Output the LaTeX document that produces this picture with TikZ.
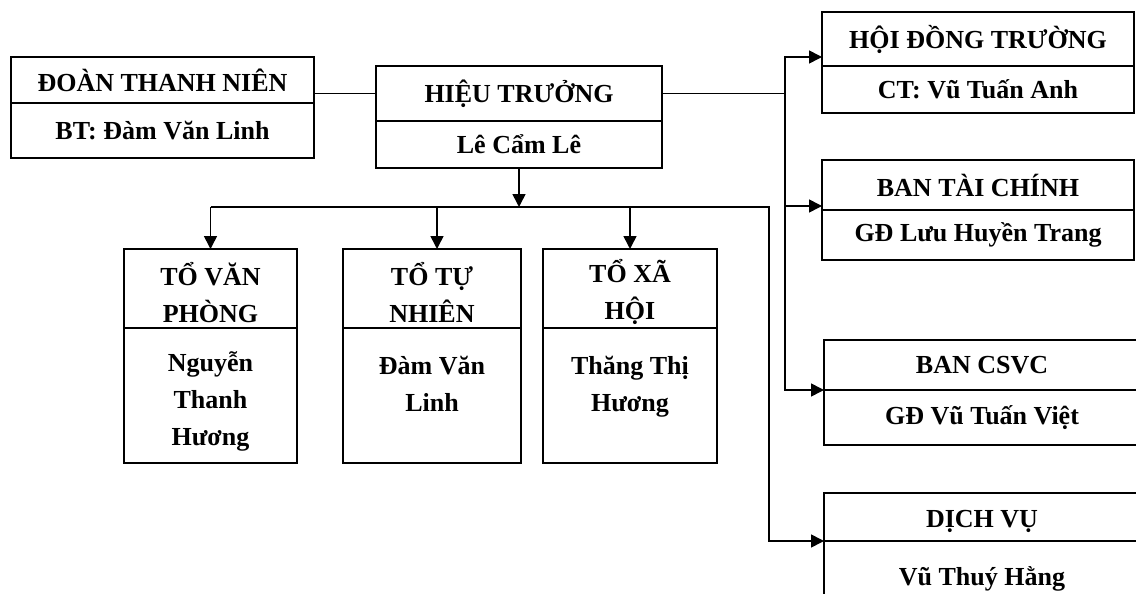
\documentclass[tikz,border=0pt]{standalone}
\usepackage{fontspec}
\setmainfont{Liberation Serif}
\usetikzlibrary{arrows.meta, positioning}

\newcommand{\topstrut}{\rule{0pt}{31pt}}

\begin{document}
\begin{tikzpicture}[
    x=1pt, y=-1pt,
    box/.style={rectangle, draw, line width=1.6pt, anchor=north west, inner sep=2pt, outer sep=0pt, align=center, font=\fontsize{26}{37}\selectfont\bfseries},
    wire/.style={line width=1.6pt},
    arrow/.style={-{Triangle[length=13pt, width=13pt]}, line width=1.6pt},
]
\useasboundingbox (0,0) rectangle (1136,594);

% left and centre boxes
\node[box, minimum width=303pt, minimum height=46pt] (doanHead) at (11,57) {ĐOÀN THANH NIÊN};
\node[box, minimum width=303pt, minimum height=55pt] (doanBody) at (doanHead.south west) {BT: Đàm Văn Linh};

\node[box, minimum width=286pt, minimum height=55pt] (htHead) at (376,66) {HIỆU TRƯỞNG};
\node[box, minimum width=286pt, minimum height=47pt] (htBody) at (htHead.south west) {Lê Cẩm Lê};

% right column
\node[box, minimum width=312pt, minimum height=54pt] (hdtHead) at (822,12) {HỘI ĐỒNG TRƯỜNG};
\node[box, minimum width=312pt, minimum height=47pt] (hdtBody) at (hdtHead.south west) {CT: Vũ Tuấn Anh};

\node[box, minimum width=312pt, minimum height=50pt] (btcHead) at (822,160) {BAN TÀI CHÍNH};
\node[box, minimum width=312pt, minimum height=50pt] (btcBody) at (btcHead.south west) {GĐ Lưu Huyền Trang};

\node[box, minimum width=316pt, minimum height=50pt] (csvcHead) at (824,340) {BAN CSVC};
\node[box, minimum width=316pt, minimum height=55pt] (csvcBody) at (csvcHead.south west) {GĐ Vũ Tuấn Việt};

\node[box, minimum width=316pt, minimum height=48pt] (dvHead) at (824,493) {\rule{0pt}{27pt}DỊCH VỤ};
\node[box, minimum width=316pt, minimum height=75pt] (dvBody) at (dvHead.south west) {Vũ Thuý Hằng};

% to boxes
\node[box, minimum width=173pt, minimum height=79pt] (vpHead) at (124,249) {\topstrut TỔ VĂN\\PHÒNG};
\node[box, minimum width=173pt, minimum height=135pt] (vpBody) at (vpHead.south west) {\topstrut Nguyễn\\Thanh\\Hương};

\node[box, minimum width=178pt, minimum height=79pt] (tnHead) at (343,249) {\topstrut TỔ TỰ\\NHIÊN};
\node[box, minimum width=178pt, minimum height=135pt] (tnBody) at (tnHead.south west) {\topstrut Đàm Văn\\Linh\\\mbox{}};

\node[box, minimum width=174pt, minimum height=79pt] (xhHead) at (543,249) {\topstrut TỔ XÃ\\HỘI};
\node[box, minimum width=174pt, minimum height=135pt] (xhBody) at (xhHead.south west) {\topstrut Thăng Thị\\Hương\\\mbox{}};

% connectors
\draw[wire] (htHead.west -| doanHead.east) -- (htHead.west);

\draw[wire] (htHead.east) -- ++(123,0) coordinate (trunk);
\draw[arrow] (trunk) |- ([yshift=-18pt]hdtHead.west);
\draw[arrow] (trunk) |- ([yshift=-21pt]btcHead.west);
\draw[arrow] (trunk) |- (csvcHead.south west);

\draw[arrow] (htBody.south) -- ++(0,39) coordinate (bus);
\coordinate (busEnd) at (769,207);
\draw[arrow] (bus -| vpHead.north) -- (busEnd) |- (dvHead.south west);
\draw[arrow] (bus -| vpHead.north) -- (vpHead.north);
\draw[arrow] ([xshift=5pt]bus -| tnHead.north) -- ([xshift=5pt]tnHead.north);
\draw[arrow] (bus -| xhHead.north) -- (xhHead.north);

\end{tikzpicture}
\end{document}
